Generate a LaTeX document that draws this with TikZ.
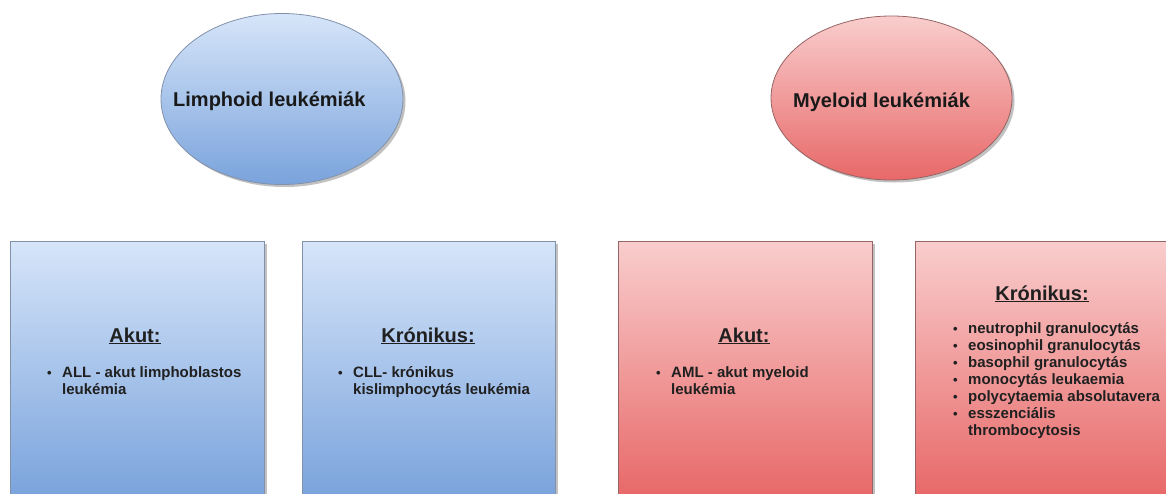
\documentclass[tikz,border=0pt]{standalone}
\usepackage{fontspec}
\setmainfont{Liberation Sans}
\usetikzlibrary{shapes.geometric,shadows}
\definecolor{bluetop}{RGB}{214,229,249}
\definecolor{bluebot}{RGB}{122,163,220}
\definecolor{redtop}{RGB}{249,205,205}
\definecolor{redbot}{RGB}{232,104,104}
\definecolor{bluedge}{RGB}{130,145,170}
\definecolor{rededge}{RGB}{150,100,100}
\definecolor{txt}{RGB}{32,32,32}
\newcommand\bul[1]{\par\hangindent=15pt\hangafter=1\noindent\makebox[15pt][l]{\fontsize{13}{13}\selectfont\textbullet}#1\par}
\newcommand\ulin[1]{\setbox0\hbox{#1}\rlap{\rule[-2.4pt]{\wd0}{1.3pt}}\box0}
\newcommand\blist[1]{\vtop{\hsize=215pt\parskip=0pt\parindent=0pt #1}}
\tikzset{
  shade/.style={drop shadow={shadow xshift=2.5pt,shadow yshift=-2.5pt,opacity=0.35,fill=black!70}},
  bluebox/.style={rectangle,draw=bluedge,line width=0.8pt,top color=bluetop,bottom color=bluebot,shade,inner sep=0},
  redbox/.style={rectangle,draw=rededge,line width=0.8pt,top color=redtop,bottom color=redbot,shade,inner sep=0},
  blueell/.style={ellipse,draw=bluedge,line width=0.8pt,top color=bluetop,bottom color=bluebot,shade,inner sep=0},
  redell/.style={ellipse,draw=rededge,line width=0.8pt,top color=redtop,bottom color=redbot,shade,inner sep=0},
  title/.style={inner sep=0,font=\bfseries\fontsize{20}{24}\selectfont,text=black!90},
  head/.style={inner sep=0,font=\bfseries\fontsize{20}{24}\selectfont,text=txt},
  items/.style={inner sep=0,font=\bfseries\fontsize{15}{17}\selectfont,text=txt},
}
\begin{document}
\begin{tikzpicture}[x=1pt,y=-1pt]
\useasboundingbox (0,0) rectangle (1166,493);
% ellipses
\node[blueell,minimum width=242pt,minimum height=171pt] (lymph) at (282,99) {};
\node[title,anchor=base west] (lymphT) at (173,106) {Limphoid leukémiák};
\node[redell,minimum width=241pt,minimum height=164pt] (myel) at (891.5,98) {};
\node[title,anchor=base west] (myelT) at (793,107) {Myeloid leukémiák};
% boxes
\node[bluebox,minimum width=254pt,minimum height=256pt] (b1) at (137,369) {};
\node[bluebox,minimum width=253pt,minimum height=256pt] (b2) at (428.5,369) {};
\node[redbox,minimum width=254pt,minimum height=256pt] (b3) at (745,369) {};
\node[redbox,minimum width=256pt,minimum height=256pt] (b4) at (1043,369) {};
% headings
\node[head,anchor=base] (h1) at (135,342) {\ulin{Akut:}};
\node[head,anchor=base] (h2) at (428,342) {\ulin{Krónikus:}};
\node[head,anchor=base] (h3) at (744,342) {\ulin{Akut:}};
\node[head,anchor=base] (h4) at (1042,300) {\ulin{Krónikus:}};
% lists
\node[items,anchor=base west] (l1) at (47,377) {\blist{\bul{ALL - akut limphoblastos\newline leukémia}}};
\node[items,anchor=base west] (l2) at (338,377) {\blist{\bul{CLL- krónikus\newline kislimphocytás leukémia}}};
\node[items,anchor=base west] (l3) at (656,377) {\blist{\bul{AML - akut myeloid\newline leukémia}}};
\node[items,anchor=base west] (l4) at (953,333) {\blist{\bul{neutrophil granulocytás}\bul{eosinophil granulocytás}\bul{basophil granulocytás}\bul{monocytás leukaemia}\bul{polycytaemia absolutavera}\bul{esszenciális\newline thrombocytosis}}};
\end{tikzpicture}
\end{document}
